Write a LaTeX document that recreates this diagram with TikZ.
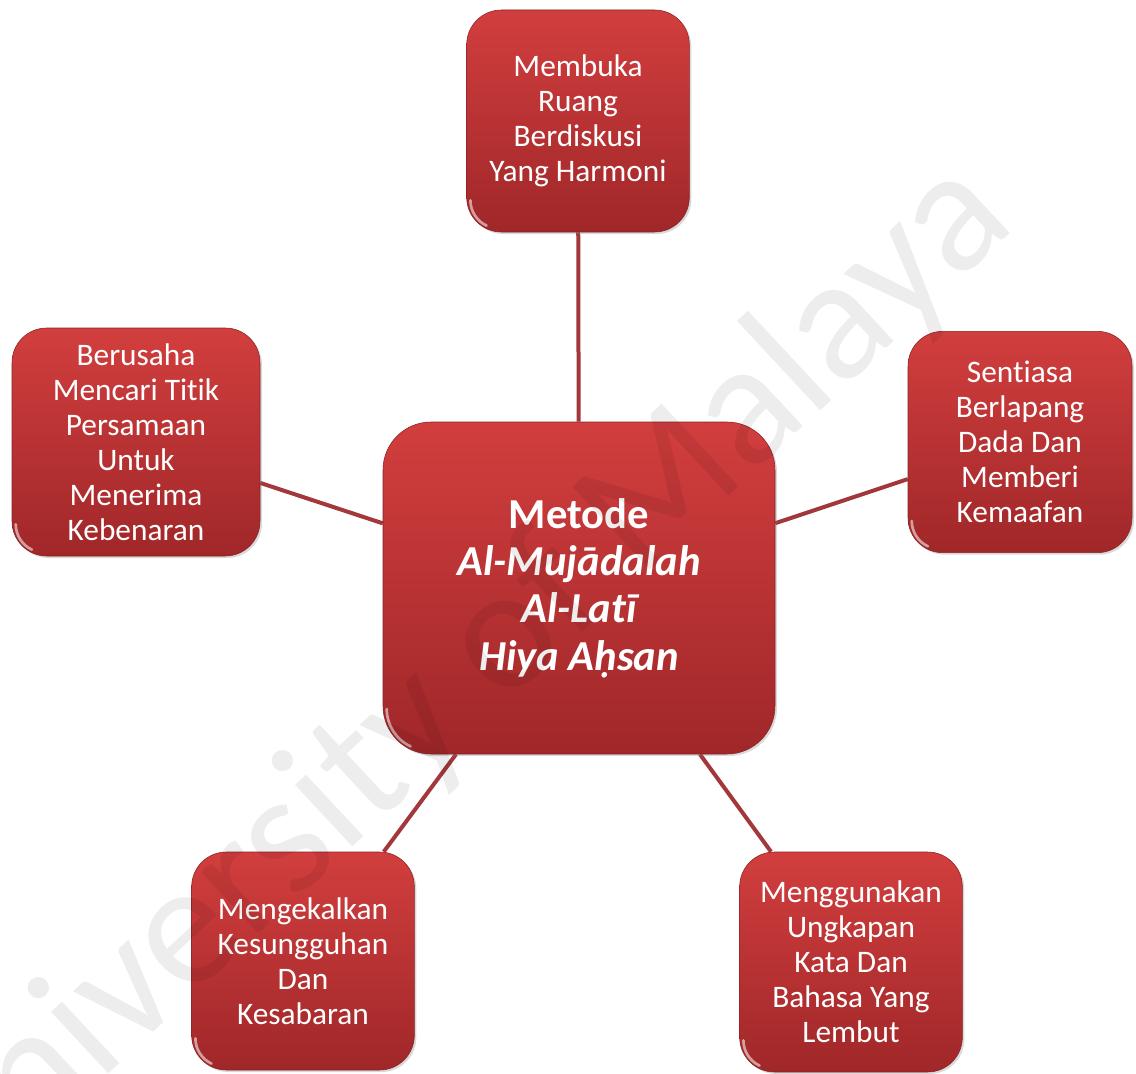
\documentclass[tikz,border=0pt]{standalone}
\usepackage{fontspec}
\setmainfont[Ligatures=NoCommon]{Carlito}
\usetikzlibrary{shadows}
\usetikzlibrary{backgrounds}

\definecolor{boxtop}{RGB}{210,62,62}
\definecolor{boxbot}{RGB}{160,39,41}
\definecolor{linkred}{RGB}{162,56,60}

\tikzset{
    idea/.style={rectangle, rounded corners=26pt, top color=boxtop, bottom color=boxbot,
        draw=boxbot!85!black, line width=.4pt, text=white, align=center, inner sep=0pt,
        font=\fontsize{23.5}{26.25}\selectfont,
        drop shadow={opacity=.3, shadow xshift=1.5pt, shadow yshift=-1.5pt}},
    link/.style={linkred, line width=3pt},
    gloss/.style={white, opacity=.55, line width=2pt, line cap=round},
}

\begin{document}
\begin{tikzpicture}[x=0.75pt, y=-0.75pt]
            \useasboundingbox (0,0) rectangle (1136,1074);

            \node (metode) at (579,588) [idea, rounded corners=36pt, minimum width=294pt, minimum height=249pt,
                font=\fontsize{32}{35.5}\selectfont\bfseries]
                {Metode\\ \itshape Al-Mujādalah\\ \itshape Al-Latī\\ \itshape Hiya Aḥsan};
            \node (ruang) at (578,121) [idea, minimum width=167pt, minimum height=166.5pt]
                {Membuka\\ Ruang\\ Berdiskusi\\ Yang Harmoni};
            \node (titik) at (136,442) [idea, minimum width=186pt, minimum height=171pt]
                {Berusaha\\ Mencari Titik\\ Persamaan\\ Untuk\\ Menerima\\ Kebenaran};
            \node (lapang) at (1020,442) [idea, minimum width=168pt, minimum height=166pt]
                {Sentiasa\\ Berlapang\\ Dada Dan\\ Memberi\\ Kemaafan};
            \node (sabar) at (303,961) [idea, minimum width=167pt, minimum height=163.5pt]
                {Mengekalkan\\ Kesungguhan\\ Dan\\ Kesabaran};
            \node (bahasa) at (851,962) [idea, minimum width=167pt, minimum height=165pt]
                {Menggunakan\\ Ungkapan\\ Kata Dan\\ Bahasa Yang\\ Lembut};

            \begin{scope}[on background layer]
                \foreach \n in {ruang, titik, lapang, sabar, bahasa} {
                    \draw[link] (metode) -- (\n);
                }
            \end{scope}

            % shine on the lower left corners
            \foreach \n in {ruang, titik, lapang, sabar, bahasa} {
                \draw[gloss] ([xshift=3pt,yshift=24pt]\n.south west) arc[start angle=180, end angle=245, radius=21pt];
            }
            \draw[gloss] ([xshift=3pt,yshift=34pt]metode.south west) arc[start angle=180, end angle=245, radius=31pt];

            \node (wm) at (452,690) [rotate=43, text=black, opacity=.07, font=\fontsize{132}{132}\selectfont]
                {University of Malaya};
        \end{tikzpicture}
\end{document}
